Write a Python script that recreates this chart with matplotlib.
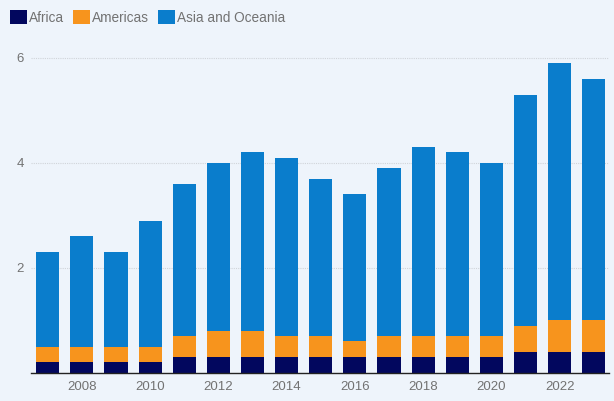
import matplotlib
matplotlib.use("Agg")
import matplotlib.pyplot as plt
from matplotlib.patches import Patch
import numpy as np

years = list(range(2007, 2024))
africa = [0.2, 0.2, 0.2, 0.2, 0.3, 0.3, 0.3, 0.3, 0.3, 0.3, 0.3, 0.3, 0.3, 0.3, 0.4, 0.4, 0.4]
americas = [0.3, 0.3, 0.3, 0.3, 0.4, 0.5, 0.5, 0.4, 0.4, 0.3, 0.4, 0.4, 0.4, 0.4, 0.5, 0.6, 0.6]
totals = [2.3, 2.6, 2.3, 2.9, 3.6, 4.0, 4.2, 4.1, 3.7, 3.4, 3.9, 4.3, 4.2, 4.0, 5.3, 5.9, 5.6]
asia_oceania = [round(t - a - m, 2) for t, a, m in zip(totals, africa, americas)]
series_names = ["Africa", "Americas", "Asia and Oceania"]
tick_years = list(range(2008, 2024, 2))
y_ticks = [2, 4, 6]

colors = ["#02075e", "#f7941d", "#0a7dcc"]
bg = "#eef4fb"
text_col = "#727272"

plt.rcParams["font.family"] = ["Liberation Sans", "DejaVu Sans"]

fig = plt.figure(figsize=(6.14, 4.01), dpi=100, facecolor=bg)
ax = fig.add_axes([0.05, 0.07, 0.942, 0.83], facecolor=bg)

x = np.array(years)
w = 0.68
bottom = np.zeros(len(years))
for vals, c in zip([africa, americas, asia_oceania], colors):
    ax.bar(x, vals, width=w, bottom=bottom, color=c, zorder=3)
    bottom += np.array(vals)

ax.set_xlim(2006.5, 2023.45)
ax.set_ylim(0, 6.34)
ax.set_yticks(y_ticks)
ax.set_yticklabels([str(v) for v in y_ticks])
ax.set_xticks(tick_years)
ax.set_xticklabels([str(v) for v in tick_years])
ax.tick_params(axis="both", length=0, colors=text_col, labelsize=9.5)
ax.tick_params(axis="y", pad=5)
ax.tick_params(axis="x", pad=6)
ax.grid(axis="y", color="#d0d4d9", linestyle=(0, (1, 1)), linewidth=0.8, zorder=0)
for s in ["top", "right", "left"]:
    ax.spines[s].set_visible(False)
ax.spines["bottom"].set_color("#222222")
ax.spines["bottom"].set_linewidth(1.0)
ax.spines["bottom"].set_zorder(4)

handles = [Patch(facecolor=c, edgecolor="none") for c in colors]
fig.legend(handles, series_names, loc="upper left", bbox_to_anchor=(-0.003, 1.005),
           ncol=3, frameon=False, handlelength=1.2, handleheight=1.2,
           handletextpad=0.15, columnspacing=0.7, fontsize=9.8,
           labelcolor=text_col)

fig.savefig("out.png", dpi=100, facecolor=bg)
